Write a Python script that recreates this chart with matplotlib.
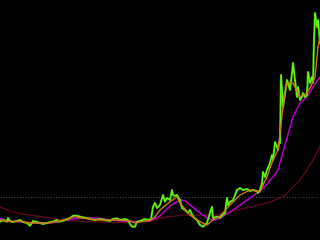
import matplotlib
matplotlib.use("Agg")
import matplotlib.pyplot as plt

# price (green)
close_day = [0, 3, 7, 8, 10, 13, 17, 20, 23, 27, 30, 32, 33, 37, 40, 43, 47, 50, 53, 57,
             58, 62, 65, 68, 72, 73, 77, 80, 85, 90, 95, 100, 105, 110, 113, 117, 120, 125,
             128, 130, 132, 135, 137, 140, 145, 148, 151, 153, 155, 157, 160, 163, 165, 167,
             170, 172, 173, 175, 177, 180, 182, 185, 188, 190, 193, 197, 200, 203, 207, 210,
             212, 213, 217, 220, 225, 227, 228, 230, 233, 237, 240, 243, 247, 250, 253, 257,
             258, 260, 262, 263, 265, 267, 268, 270, 272, 273, 275, 277, 278, 279, 280, 281,
             283, 285, 287, 288, 290, 292, 293, 295, 297, 298, 300, 302, 303, 305, 307, 308,
             310, 312, 313, 314, 315, 317, 318, 320]
close_val = [18.3, 20, 18.3, 22, 19, 18, 19, 20, 18, 17, 14.3, 17, 19, 18, 17, 16, 17, 18, 18.3, 20,
             18.3, 19, 20, 21, 23.3, 24.3, 24.3, 23.3, 22.3, 21, 20, 21, 20, 19, 21, 21.7, 20, 21,
             20, 16, 13.3, 13.3, 18.3, 19, 21, 20, 20.5, 33.3, 37, 32, 35, 45, 38.3, 42,
             40, 50, 45, 44, 45, 40, 32, 30, 27, 30, 23.3, 20, 15, 13.3, 17, 27,
             33.3, 22, 23.3, 22.5, 27, 42, 35, 38, 40, 50, 52, 50, 51, 49, 50, 49,
             47, 50, 57, 68, 63, 70, 72, 77, 85, 80, 98, 93, 90, 97, 97, 165,
             133, 147, 160, 157, 150, 167, 177, 160, 143, 153, 140, 143, 147, 143, 145, 168,
             157, 163, 157, 200, 227, 213, 220, 197]

# short average (orange)
ma_short_day = [0, 10, 20, 30, 40, 50, 60, 70, 75, 80, 90, 100, 110, 120, 130, 135, 140, 150,
                155, 160, 170, 177, 180, 190, 200, 207, 213, 220, 230, 240, 250, 257, 260, 263,
                267, 270, 273, 278, 283, 287, 293, 300, 307, 310, 315, 318, 320]
ma_short_val = [20, 18.3, 19, 17, 17, 17.3, 19, 22, 23.3, 22.3, 21, 20, 20, 20, 19, 17, 18, 19.5,
                23.3, 30, 38.3, 43.3, 37, 25, 18.3, 15, 20, 24, 35, 45, 50, 49, 48, 55,
                63, 72, 80, 90, 133, 157, 157, 143, 147, 152, 163, 193, 203]

# medium average (magenta)
ma_mid_day = [0, 10, 20, 33, 50, 57, 67, 80, 90, 100, 110, 120, 130, 140, 150, 160, 170, 180,
              185, 190, 200, 207, 213, 220, 230, 240, 250, 257, 260, 267, 273, 278, 285, 293,
              300, 307, 313, 320]
ma_mid_val = [21.5, 19, 18, 17, 17, 18, 20, 22, 22.3, 21.7, 20, 19, 18.5, 18.5, 19, 24, 34, 40,
              39.5, 35, 27, 22, 20, 21.5, 28, 35, 42, 47, 49, 56, 63, 70, 95, 123,
              137, 143, 153, 163]

# long average (dark red)
ma_long_day = [0, 10, 20, 33, 50, 67, 83, 100, 117, 133, 150, 160, 167, 183, 200, 217, 233,
               250, 267, 283, 290, 300, 307, 313, 320]
ma_long_val = [33, 29, 26.5, 24.5, 22, 19.5, 18.5, 18, 17.5, 18, 19, 21.5, 23, 25, 24.5, 25, 29,
               33, 37, 43, 50, 60, 70, 80, 94]

ref_level = 43.3

fig = plt.figure(figsize=(3.2, 2.4), dpi=100, facecolor="black")
ax = fig.add_axes([0, 0, 1, 1])
ax.set_facecolor("black")

ax.axhline(ref_level, color="#4a4a4a", lw=0.8, ls=(0, (1, 1.5)))
ax.plot(ma_long_day, ma_long_val, color="#5c0a14", lw=1.0)
ax.plot(ma_mid_day, ma_mid_val, color="#b400c8", lw=1.1)
ax.plot(close_day, close_val, color="#3fd000", lw=1.5)
ax.plot(close_day, close_val, color="#7cff20", lw=0.5)
ax.plot(ma_short_day, ma_short_val, color="#d07818", lw=1.0)

ax.set_xlim(0, 320)
ax.set_ylim(0, 240)
ax.axis("off")

fig.savefig("out.png", dpi=100, facecolor="black")
